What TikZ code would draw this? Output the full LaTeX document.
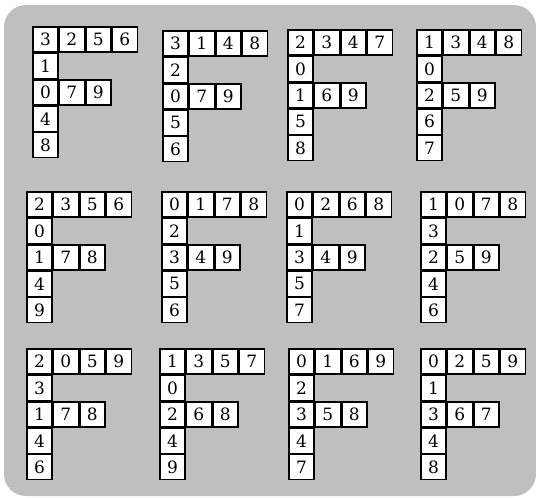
\documentclass[tikz,border=0pt]{standalone}
\usepackage{fontspec}
\setmainfont{DejaVu Serif}
\usepackage{xcolor}
\usepackage{tikz}
\usetikzlibrary{positioning}
\definecolor{panel}{rgb}{0.75,0.75,0.75}

\begin{document}
\begin{tikzpicture}[
  x=1pt, y=-1pt,
  cellbox/.style={
    rectangle, draw=black, line width=1.4pt,
    fill=white, minimum size=25pt, inner sep=0pt,
    font=\fontsize{17}{19}\selectfont
  }
]
\useasboundingbox (0,0) rectangle (536,498);

% grey panel behind the twelve F shapes
\fill[panel, rounded corners=22pt] (4,5) rectangle (536,496);

% each F: name / left / top / top row / second / middle row / fourth / fifth
\foreach \nm/\x/\y/\a/\b/\c/\d/\e/\f/\g/\h/\i/\j in {
  fa/33/27/3/2/5/6/1/0/7/9/4/8,
  fb/163/31/3/1/4/8/2/0/7/9/5/6,
  fc/288/30/2/3/4/7/0/1/6/9/5/8,
  fd/417/30/1/3/4/8/0/2/5/9/6/7,
  fe/27/192/2/3/5/6/0/1/7/8/4/9,
  ff/162/192/0/1/7/8/2/3/4/9/5/6,
  fg/287/192/0/2/6/8/1/3/4/9/5/7,
  fh/421/192/1/0/7/8/3/2/5/9/4/6,
  fi/27/349/2/0/5/9/3/1/7/8/4/6,
  fj/160/349/1/3/5/7/0/2/6/8/4/9,
  fk/289/349/0/1/6/9/2/3/5/8/4/7,
  fl/421/349/0/2/5/9/1/3/6/7/4/8} {
  % top bar
  \node[cellbox] (\nm-a) at (\x+12.5,\y+12.5) {\a};
  \node[cellbox, right=0pt of \nm-a] (\nm-b) {\b};
  \node[cellbox, right=0pt of \nm-b] (\nm-c) {\c};
  \node[cellbox, right=0pt of \nm-c] (\nm-d) {\d};
  % stem
  \node[cellbox, below=0pt of \nm-a] (\nm-e) {\e};
  \node[cellbox, below=0pt of \nm-e] (\nm-f) {\f};
  \node[cellbox, right=0pt of \nm-f] (\nm-g) {\g};
  \node[cellbox, right=0pt of \nm-g] (\nm-h) {\h};
  \node[cellbox, below=0pt of \nm-f] (\nm-i) {\i};
  \node[cellbox, below=0pt of \nm-i] (\nm-j) {\j};
}

\end{tikzpicture}
\end{document}
